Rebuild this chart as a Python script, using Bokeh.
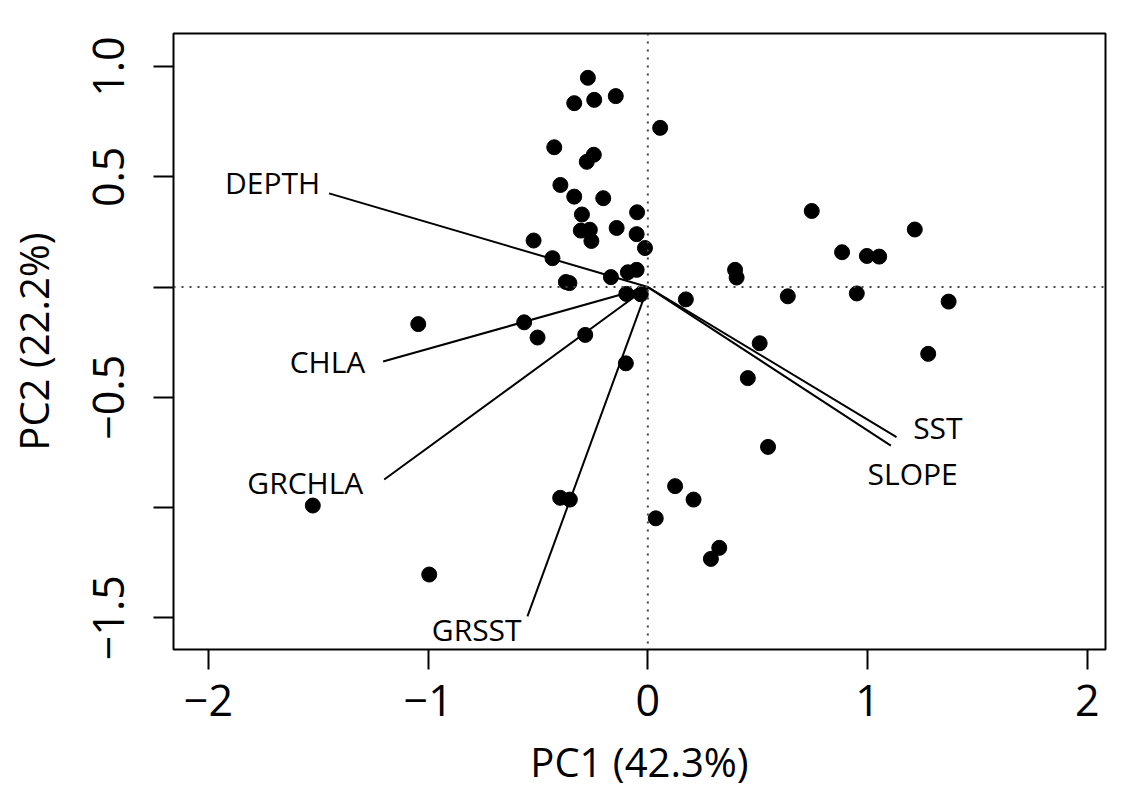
from bokeh.plotting import figure
from bokeh.models import Range1d, FixedTicker, Span
from bokeh.core.properties import value
from bokeh.embed import file_html
from bokeh.resources import INLINE

# PCA scores (PC1, PC2)
pc1 = [-0.273, -0.335, -0.244, -0.146, 0.056, -0.426, -0.246, -0.278, -0.398, -0.335,
       -0.203, -0.300, -0.049, -0.305, -0.264, -0.257, -0.142, -0.051, -0.013, -0.520,
       -0.434, -0.373, -0.357, -0.168, -0.091, -0.051, -0.098, -0.032, 0.173, -0.563,
       -1.045, -0.502, -0.285, -0.100, 0.746, 1.215, 0.884, 0.997, 1.053, 0.397,
       0.404, 0.637, 0.951, 1.369, 0.509, 1.276, 0.455, 0.547, 0.124, 0.208,
       0.036, 0.325, 0.287, -0.399, -0.355, -1.525, -0.995]
pc2 = [0.949, 0.834, 0.849, 0.866, 0.722, 0.634, 0.600, 0.568, 0.463, 0.410,
       0.403, 0.329, 0.339, 0.256, 0.260, 0.209, 0.268, 0.240, 0.177, 0.211,
       0.131, 0.023, 0.018, 0.045, 0.067, 0.078, -0.031, -0.033, -0.056, -0.160,
       -0.168, -0.229, -0.217, -0.346, 0.345, 0.261, 0.158, 0.141, 0.138, 0.078,
       0.043, -0.042, -0.029, -0.066, -0.255, -0.303, -0.413, -0.725, -0.903, -0.964,
       -1.049, -1.183, -1.233, -0.956, -0.964, -0.991, -1.304]

# Variable loadings (arrow tips) and label anchors
var_names = ["DEPTH", "CHLA", "GRCHLA", "GRSST", "SST", "SLOPE"]
load_x = [-1.451, -1.205, -1.200, -0.548, 1.132, 1.106]
load_y = [0.425, -0.338, -0.873, -1.494, -0.681, -0.719]
lab_x = [-1.708, -1.458, -1.559, -0.779, 1.320, 1.205]
lab_y = [0.473, -0.336, -0.888, -1.553, -0.638, -0.847]

xtick_vals = [-2, -1, 0, 1, 2]
xtick_labels = ["\u22122", "\u22121", "0", "1", "2"]
ytick_vals = [-1.5, -1.0, -0.5, 0.0, 0.5, 1.0]
ytick_labels = ["\u22121.5", "", "\u22120.5", "", "0.5", "1.0"]

x_label = "PC1 (42.3%)"
y_label = "PC2 (22.2%)"

FONT = "Open Sans"

p = figure(width=1107, height=794,
           x_range=Range1d(-2.159, 2.083), y_range=Range1d(-1.644, 1.150),
           output_backend="svg", toolbar_location=None,
           min_border_left=173, min_border_right=2, min_border_top=33, min_border_bottom=145)

p.background_fill_color = "white"
p.border_fill_color = "white"
p.outline_line_color = "black"
p.outline_line_width = 2
p.xgrid.visible = False
p.ygrid.visible = False

for ax in (p.xaxis[0], p.yaxis[0]):
    ax.axis_line_color = None
    ax.major_tick_line_color = "black"
    ax.major_tick_line_width = 2
    ax.major_tick_out = 20
    ax.major_tick_in = 0
    ax.minor_tick_line_color = None
    ax.major_label_text_font = FONT
    ax.major_label_text_font_size = "43px"
    ax.major_label_text_color = "black"
    ax.axis_label_text_font = FONT
    ax.axis_label_text_font_size = "40px"
    ax.axis_label_text_font_style = "normal"
    ax.axis_label_text_color = "black"

p.xaxis[0].ticker = FixedTicker(ticks=xtick_vals)
p.xaxis[0].major_label_overrides = {v: l for v, l in zip(xtick_vals, xtick_labels)}
p.xaxis[0].major_label_standoff = 15
p.xaxis[0].axis_label = x_label
p.xaxis[0].axis_label_standoff = 15

p.yaxis[0].ticker = FixedTicker(ticks=ytick_vals)
p.yaxis[0].major_label_overrides = {v: l for v, l in zip(ytick_vals, ytick_labels)}
p.yaxis[0].major_label_orientation = "vertical"
p.yaxis[0].major_label_standoff = 29
p.yaxis[0].axis_label = y_label
p.yaxis[0].axis_label_standoff = 30

# dotted reference lines
p.add_layout(Span(location=0, dimension="width", line_color="#444444",
                  line_width=2, line_dash="2 6"))
p.add_layout(Span(location=0, dimension="height", line_color="#444444",
                  line_width=2, line_dash="2 6"))

# points
p.scatter(pc1, pc2, size=15, marker="circle", fill_color="black", line_color="black")

# loading segments
p.segment(x0=[0] * len(load_x), y0=[0] * len(load_y), x1=load_x, y1=load_y,
          line_color="black", line_width=2)

# labels
p.text(x=lab_x, y=lab_y, text=var_names, text_font=value(FONT),
       text_font_size=value("30px"), text_align="center", text_baseline="alphabetic",
       text_color="black")

open("out.html", "w").write(file_html(p, INLINE))
